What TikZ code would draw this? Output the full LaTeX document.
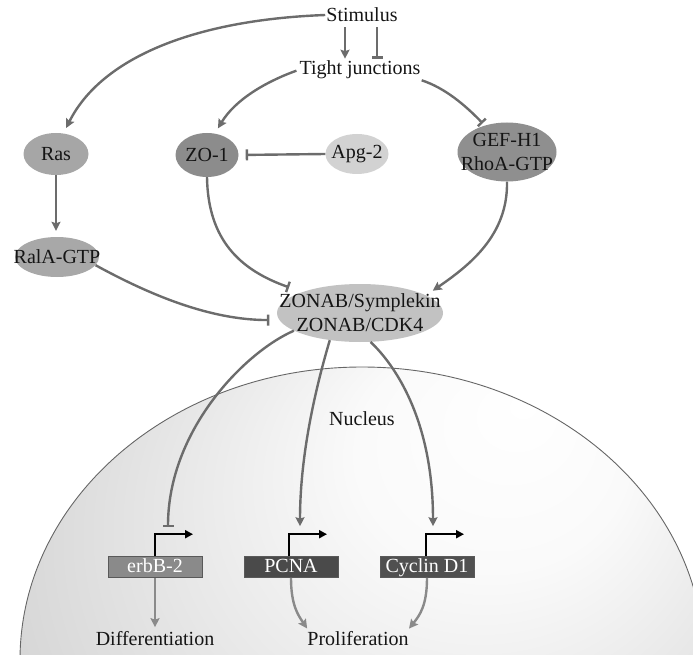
\documentclass[tikz,border=0pt]{standalone}
\usepackage{fontspec}
\setmainfont{Liberation Serif}
\usetikzlibrary{arrows.meta,shapes.geometric,calc}
\definecolor{lgray}{HTML}{6C6C6C}
\definecolor{ogray}{HTML}{8A8A8A}
\definecolor{txtc}{HTML}{151515}
\definecolor{cRas}{HTML}{A6A6A6}
\definecolor{cZO}{HTML}{8C8C8C}
\definecolor{cApg}{HTML}{D2D2D2}
\definecolor{cGEF}{HTML}{8F8F8F}
\definecolor{cRal}{HTML}{A8A8A8}
\definecolor{cZON}{HTML}{C2C2C2}
\definecolor{cErb}{HTML}{8A8A8A}
\definecolor{cPC}{HTML}{4A4A4A}
\definecolor{cCy}{HTML}{505050}
\pgfdeclareradialshading{nucsh}{\pgfpoint{12bp}{22bp}}{color(0bp)=(white); color(10bp)=(white!98!black); color(25bp)=(black!12); color(40bp)=(black!22); color(50bp)=(black!30)}
\begin{document}
\begin{tikzpicture}[x=1pt,y=-1pt,
  font=\fontsize{20}{24}\selectfont,
  txt/.style={inner sep=1pt, text=txtc},
  ell/.style={ellipse, inner sep=0pt, draw=none},
  every label/.style={text=txtc, inner sep=0pt, align=center},
  gbox/.style={rectangle, minimum width=94pt, minimum height=21pt, inner sep=0pt,
     text=white, text height=13pt, text depth=3pt, draw=black!65, line width=0.6pt},
  conn/.style={draw=lgray, line width=2.4pt},
  act/.style={conn, -{Stealth[length=9pt,width=9pt,inset=1.5pt]}},
  inh/.style={conn, -{Bar[width=11pt]}},
  act2/.style={draw=ogray, line width=2.4pt, -{Stealth[length=9pt,width=9pt,inset=1.5pt]}},
  prom/.style={draw=black, line width=2.2pt, -{Triangle[length=8pt,width=8pt]}}
]
\useasboundingbox (0,0) rectangle (693,655);
\begin{scope}
  \clip (0,0) rectangle (693,655);
  \shade[shading=nucsh] (362,660) ellipse [x radius=342, y radius=293];
  \draw[black!60, line width=0.9pt] (362,660) ellipse [x radius=342, y radius=293];
\end{scope}

% nodes
\node[txt] (stim) at (362,15) {Stimulus};
\node[txt] (tj) at (360,70) {Tight junctions};
\node[ell, fill=cRas, minimum width=65pt, minimum height=42pt, label={center:Ras}] (ras) at (56,154) {};
\node[ell, fill=cZO, minimum width=63pt, minimum height=44pt, label={center:ZO-1}] (zo) at (207,155) {};
\node[ell, fill=cApg, minimum width=63pt, minimum height=40pt, label={center:Apg-2}] (apg) at (357,154) {};
\node[ell, fill=cGEF, minimum width=99pt, minimum height=59pt, label={center:GEF-H1\\RhoA-GTP}] (gef) at (507,152) {};
\node[ell, fill=cRal, minimum width=84pt, minimum height=40pt, label={center:RalA-GTP}] (ral) at (57,257) {};
\node[ell, fill=cZON, minimum width=166pt, minimum height=58pt, label={center:ZONAB/Symplekin\\ZONAB/CDK4}] (zon) at (360,313) {};
\node[txt] (nuc) at (362,419) {Nucleus};
\node[gbox, fill=cErb] (erb) at (155,567) {erbB-2};
\node[gbox, fill=cPC] (pcna) at (291,567) {PCNA};
\node[gbox, fill=cCy] (cyc) at (427,567) {Cyclin D1};
\node[txt] (dif) at (155,638.5) {Differentiation};
\node[txt] (pro) at (358,638.5) {Proliferation};

% connectors
\draw[act, shorten <=4pt, shorten >=1pt] ([xshift=-17pt]stim.south) -- ([xshift=-15pt]tj.north);
\draw[inh, shorten <=4pt, shorten >=1pt] ([xshift=15pt]stim.south) -- ([xshift=17pt]tj.north);
\draw[act, shorten >=6pt] (stim.west) .. controls (190,20) and (100,60) .. (ras.70);
\draw[act, shorten <=2pt, shorten >=6pt] (tj.west) .. controls (265,82) and (235,100) .. (zo.70);
\draw[inh, shorten >=3pt] (tj.south east) .. controls (445,88) and (465,105) .. (gef.130);
\draw[inh, shorten >=7pt] (apg.west) -- (zo.east);
\draw[act, shorten >=6pt] (ras.south) -- (ras.south |- ral.north);
\draw[inh, shorten >=14pt] (zo.south) .. controls (208,240) and (240,270) .. (zon.160);
\draw[inh, shorten >=10pt] (ral.-12) .. controls (150,295) and (210,320) .. (zon.185);
\draw[act, shorten >=8pt] (gef.south) .. controls (508,235) and (470,265) .. (zon.15);
\draw[inh, shorten >=29pt] (zon.195) .. controls (245,352) and (168,430) .. ([xshift=13pt]erb.north);
\draw[act, shorten >=30pt] (zon.222) .. controls (318,380) and (300,450) .. ([xshift=9pt]pcna.north);
\draw[act, shorten >=30pt] (zon.290) .. controls (395,365) and (433,420) .. ([xshift=6pt]cyc.north);

\draw[prom] (erb.north) -- ++(0,-22) -- ++(38,0);
\draw[prom] ([xshift=-2pt]pcna.north) -- ++(0,-22) -- ++(38,0);
\draw[prom] ([xshift=-1pt]cyc.north) -- ++(0,-22) -- ++(38,0);

\draw[act2, shorten >=3pt] (erb.south) -- (erb.south |- dif.north);
\draw[act2, shorten >=2pt] (pcna.south) .. controls (291,605) and (298,615) .. ([xshift=2pt]pro.north west);
\draw[act2, shorten >=2pt] (cyc.south) .. controls (427,605) and (420,615) .. ([xshift=-2pt]pro.north east);
\end{tikzpicture}
\end{document}
